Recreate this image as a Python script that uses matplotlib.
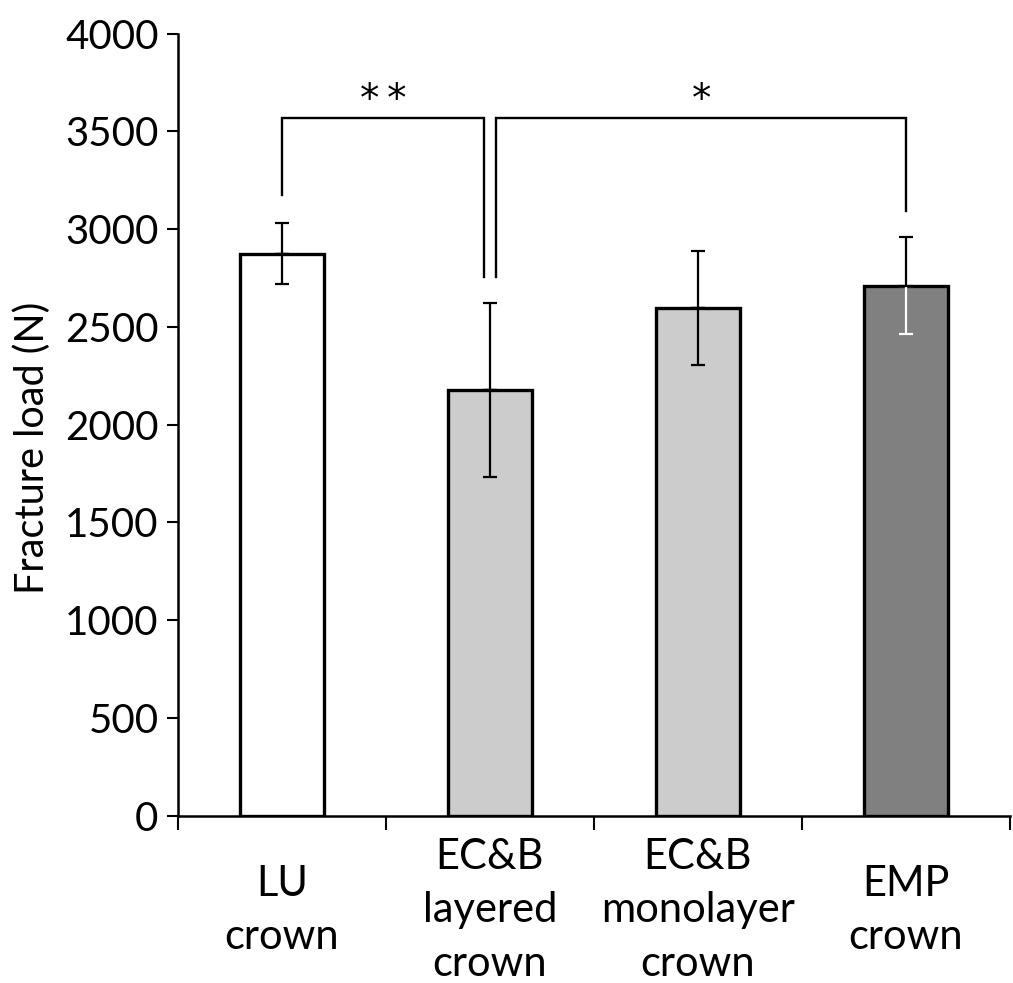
import matplotlib
matplotlib.use("Agg")
import matplotlib.pyplot as plt
import matplotlib.transforms as mtransforms

plt.rcParams['font.family'] = ['Lato', 'DejaVu Sans']

categories = ["LU\ncrown", "EC&B\nlayered\ncrown", "EC&B\nmonolayer\ncrown", "EMP\ncrown"]
means = [2875, 2176, 2597, 2711]
errors = [155, 445, 290, 250]
colors = ["#ffffff", "#cccccc", "#cccccc", "#808080"]
err_colors_lower = ["black", "black", "black", "white"]

y_ticks = [0, 500, 1000, 1500, 2000, 2500, 3000, 3500, 4000]
y_label = "Fracture load (N)"

# significance brackets: (left index, right index, top y, left drop y, right drop y, label)
brackets = [
    (0, 1, 3567, 3175, 2754, "*\u2009*"),
    (1, 3, 3567, 2754, 3090, "*"),
]
star_y = 3605

fig = plt.figure(figsize=(10.13, 9.83), dpi=100)
ax = fig.add_axes([0.1757, 0.1702, 0.997 - 0.1757, 0.9659 - 0.1702])

x = list(range(len(categories)))
ax.bar(x, means, width=0.4, color=colors, edgecolor="black", linewidth=2.4, zorder=2)

for xi, m, e, lc in zip(x, means, errors, err_colors_lower):
    # lower half
    ax.errorbar([xi], [m], yerr=[[e], [0]], fmt="none", ecolor=lc,
                elinewidth=1.6, capsize=5, capthick=1.6, zorder=3)
    # upper half
    ax.errorbar([xi], [m], yerr=[[0], [e]], fmt="none", ecolor="black",
                elinewidth=1.6, capsize=5, capthick=1.6, zorder=4)

# brackets
offset = 0.03
for (i, j, top, dl, dr, lab) in brackets:
    xl = x[i] + (offset if i == 1 else 0)
    xr = x[j] - (offset if j == 1 else 0)
    ax.plot([xl, xl, xr, xr], [dl, top, top, dr], color="black", lw=1.7,
            solid_joinstyle="miter", zorder=5, clip_on=False)
    ax.text((xl + xr) / 2, star_y, lab, ha="center", va="baseline",
            fontsize=28, family="DejaVu Sans", zorder=5)

ax.set_xlim(-0.5, 3.5)
ax.set_ylim(0, 4000)
ax.set_yticks(y_ticks)
ax.set_yticklabels([str(t) for t in y_ticks], fontsize=29)

ax.set_xticks([])
ax.set_xticks([-0.5, 0.5, 1.5, 2.5, 3.5], minor=True)
ax.tick_params(axis="x", which="minor", direction="out", length=10, width=1.5)
ax.tick_params(axis="y", direction="out", length=8, width=1.5, pad=6)

for s in ["top", "right"]:
    ax.spines[s].set_visible(False)
for s in ["left", "bottom"]:
    ax.spines[s].set_linewidth(1.8)

trans = mtransforms.blended_transform_factory(ax.transData, ax.transAxes)
for xi, lab in zip(x, categories):
    ax.text(xi, -0.121, lab, transform=trans, ha="center", va="center",
            fontsize=30, linespacing=1.5, multialignment="center")

ax.set_ylabel(y_label, fontsize=28.5)
ax.yaxis.set_label_coords(-0.153, 0.47)

fig.savefig("out.png", dpi=100, facecolor="white")
